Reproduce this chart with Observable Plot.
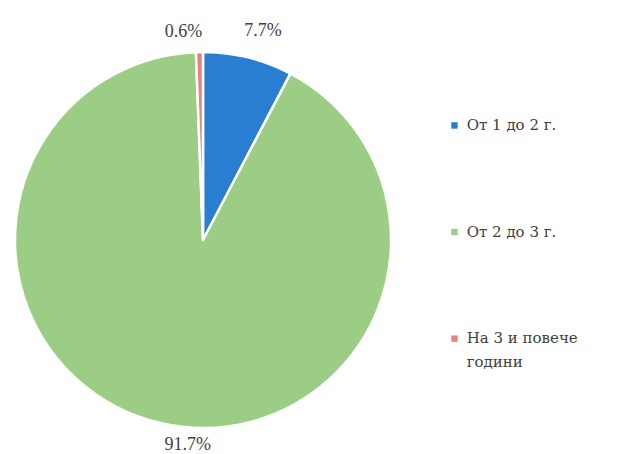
<!DOCTYPE html>
<html><head><meta charset="utf-8">
<script src="https://cdn.jsdelivr.net/npm/d3@7"></script>
<script src="https://cdn.jsdelivr.net/npm/@observablehq/plot@0.6"></script>
<style>body{margin:0;background:#fff;}</style>
</head><body><div id="chart"></div>
<script>
const categories = ["От 1 до 2 г.", "От 2 до 3 г.", "На 3 и повече години"];
const legendLines = [["От 1 до 2 г."], ["От 2 до 3 г."], ["На 3 и повече", "години"]];
const values = [7.7, 91.7, 0.6];
const labels = ["7.7%", "91.7%", "0.6%"];
const colors = ["#2a7ed2", "#9ccd84", "#e87f80"];

const data = categories.map((c, i) => ({category: c, value: values[i], label: labels[i], color: colors[i]}));
const arcs = d3.pie().sort(null).value(d => d.value)(data);

// label nudges (px)
const labelDx = [10, 30, -16];
const labelDy = [-9, 2, -3];

const labelData = arcs.map((a, i) => {
  const mid = (a.startAngle + a.endAngle) / 2;
  return {x: Math.sin(mid) * 1.1, y: Math.cos(mid) * 1.1, label: a.data.label, dx: labelDx[i], dy: labelDy[i]};
});

const legendData = [];
legendLines.forEach((lines, i) => {
  lines.forEach((t, j) => legendData.push({i, j, text: t, color: colors[i]}));
});
const legY = i => 0.612 - i * 0.567;
const lineH = 24 / 188;
const serif = "serif";
const cyrSerif = "DejaVu Serif";

const pieMark = (index, scales) => {
  const g = d3.create("svg:g");
  const cx = scales.x(0), cy = scales.y(0);
  const r = scales.x(1) - scales.x(0);
  const arc = d3.arc().innerRadius(0).outerRadius(r);
  g.attr("transform", `translate(${cx},${cy})`);
  g.selectAll("path").data(arcs).join("path")
    .attr("d", arc)
    .attr("fill", d => d.data.color)
    .attr("stroke", "#fff")
    .attr("stroke-width", 2.5)
    .attr("stroke-linejoin", "round");
  return g.node();
};

const plot = Plot.plot({
  width: 620, height: 454, margin: 0,
  style: {background: "#fff"},
  x: {domain: [-1, 1], range: [15, 391], axis: null},
  y: {domain: [-1, 1], range: [428, 52], axis: null},
  marks: [
    pieMark,
    ...labelData.map(d => Plot.text([d], {x: "x", y: "y", text: "label", dx: d.dx, dy: d.dy, fontSize: 18, fontFamily: serif, fill: "#404040"})),
    Plot.dot(legendData.filter(d => d.j === 0), {x: () => 1.335, y: d => legY(d.i), symbol: "square", r: 3.6, fill: "color", stroke: null}),
    Plot.text(legendData, {x: () => 1.40, y: d => legY(d.i) - d.j * lineH, text: "text", textAnchor: "start", fontSize: 15, fontFamily: cyrSerif, fill: "#404040"})
  ]
});
document.getElementById("chart").appendChild(plot);
</script></body></html>
